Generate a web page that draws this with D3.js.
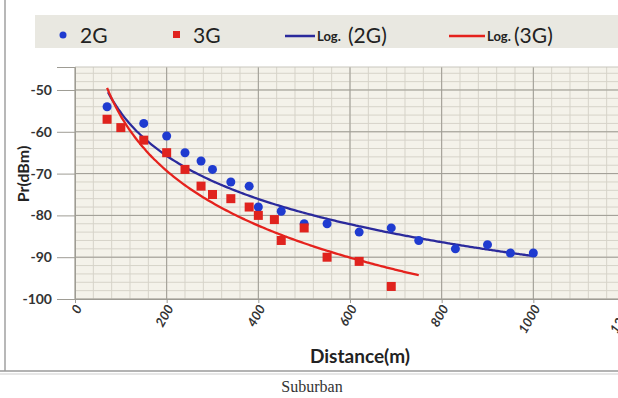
<!DOCTYPE html>
<html>
<head>
<meta charset="utf-8">
<script src="https://cdn.jsdelivr.net/npm/d3@7"></script>
<style>
  body { margin: 0; background: #fff; }
  svg { display: block; }
</style>
</head>
<body>
<div id="container"></div>
<script>
const dist2G = [70, 150, 200, 240, 275, 300, 340, 380, 400, 450, 500, 550, 620, 690, 750, 830, 900, 950, 1000];
const pr2G   = [-54, -58, -61, -65, -67, -69, -72, -73, -78, -79, -82, -82, -84, -83, -86, -88, -87, -89, -89];
const dist3G = [70, 100, 150, 200, 240, 275, 300, 340, 380, 400, 435, 450, 500, 550, 620, 690];
const pr3G   = [-57, -59, -62, -65, -69, -73, -75, -76, -78, -80, -81, -86, -83, -90, -91, -97];
// log trendlines y = a*ln(x) + b, as drawn in the picture
const trendA = [-14.9, -18.9];
const trendB = [13.2, 30.8];
const trendStart = [72, 70];
const trendEnd = [1000, 752];
const xTicks = [0, 200, 400, 600, 800, 1000, 1200];
const yTicks = [-100, -90, -80, -70, -60, -50];
const legendNames = ['2G', '3G', '(2G)', '(3G)'];

const width = 618, height = 398;
const margins = { top: 67, bottom: 99, left: 75, right: -7 };

const svg = d3.select('#container').append('svg')
    .attr('width', width).attr('height', height);

svg.append('rect').attr('width', width).attr('height', height).attr('fill', '#fff');

const xScale = d3.scaleLinear().domain([0, 1200]).range([margins.left, width - margins.right]);
const yScale = d3.scaleLinear().domain([-100, -44.5]).range([height - margins.bottom, margins.top]);

const x0 = xScale(0), x1 = xScale(1200), yb = yScale(-100), yt = yScale(-44.5);

// frame lines of the screenshot
svg.append('line').attr('x1', 5).attr('x2', 5).attr('y1', 0).attr('y2', 371)
    .attr('stroke', '#a0a0a0').attr('stroke-width', 1.5);
svg.append('line').attr('x1', 0).attr('x2', width).attr('y1', 371).attr('y2', 371)
    .attr('stroke', '#9a9a9a').attr('stroke-width', 1.5);
svg.append('line').attr('x1', 0).attr('x2', width).attr('y1', 374).attr('y2', 374)
    .attr('stroke', '#cfcfcf').attr('stroke-width', 1);

// legend band
svg.append('rect').attr('x', 35).attr('y', 15).attr('width', width - 35).attr('height', 33)
    .attr('fill', '#e9e8e1');

// plot background + grid
svg.append('rect').attr('x', x0).attr('y', yt).attr('width', x1 - x0).attr('height', yb - yt)
    .attr('fill', '#f4f2ea');

const grid = svg.append('g');
grid.selectAll('.vminor').data(d3.range(0, 1201, 40)).enter().append('line')
    .attr('x1', d => xScale(d)).attr('x2', d => xScale(d))
    .attr('y1', yt).attr('y2', yb)
    .attr('stroke', '#d6d3c9').attr('stroke-width', 1);
grid.selectAll('.hminor').data(d3.range(-100, -44, 2)).enter().append('line')
    .attr('x1', x0).attr('x2', x1)
    .attr('y1', d => yScale(d)).attr('y2', d => yScale(d))
    .attr('stroke', '#d6d3c9').attr('stroke-width', 1);
grid.selectAll('.vmajor').data(xTicks).enter().append('line')
    .attr('x1', d => xScale(d)).attr('x2', d => xScale(d))
    .attr('y1', yt).attr('y2', yb)
    .attr('stroke', '#9e9c94').attr('stroke-width', 1);
grid.selectAll('.hmajor').data(yTicks).enter().append('line')
    .attr('x1', x0).attr('x2', x1)
    .attr('y1', d => yScale(d)).attr('y2', d => yScale(d))
    .attr('stroke', '#9e9c94').attr('stroke-width', 1);
svg.append('line').attr('x1', x0).attr('x2', x1).attr('y1', yt).attr('y2', yt)
    .attr('stroke', '#c8c6bd');

// axes
const yAxis = d3.axisLeft(yScale).tickValues(yTicks).tickSize(18).tickPadding(5)
    .tickFormat(d => '-' + Math.abs(d));
const gy = svg.append('g').attr('transform', `translate(${x0},0)`).call(yAxis);
gy.select('.domain').attr('stroke', '#9e9c94');
gy.selectAll('.tick line').attr('stroke', '#9e9c94');
gy.selectAll('text')
    .style('font-family', 'Lato, "Open Sans", sans-serif')
    .style('font-size', '14px').style('font-weight', 'bold').attr('fill', '#333');

const xAxis = d3.axisBottom(xScale).tickValues(xTicks).tickSize(4).tickFormat(d => String(d));
const gx = svg.append('g').attr('transform', `translate(0,${yb})`).call(xAxis);
gx.select('.domain').attr('stroke', '#9e9c94');
gx.selectAll('.tick line').attr('stroke', '#9e9c94');
gx.selectAll('text')
    .attr('text-anchor', 'end')
    .attr('transform', 'translate(3,7) rotate(-60)')
    .attr('y', 0).attr('dy', '0.35em')
    .style('font-family', 'Lato, "Open Sans", sans-serif')
    .style('font-size', '13px').style('font-weight', 'bold').style('font-style', 'italic')
    .attr('fill', '#333');

// axis titles
svg.append('text')
    .attr('text-anchor', 'middle')
    .attr('transform', 'translate(29,174) rotate(-90)')
    .style('font-family', 'Lato, "Open Sans", sans-serif')
    .style('font-size', '16px').style('font-weight', 'bold').attr('fill', '#222')
    .text('Pr(dBm)');

svg.append('text')
    .attr('x', 360).attr('y', 363).attr('text-anchor', 'middle')
    .style('font-family', 'Lato, "Open Sans", sans-serif')
    .style('font-size', '19px').style('font-weight', 'bold').attr('fill', '#222')
    .text('Distance(m)');

svg.append('text')
    .attr('x', 312).attr('y', 392).attr('text-anchor', 'middle')
    .style('font-family', '"Liberation Serif", "DejaVu Serif", serif')
    .style('font-size', '16px').attr('fill', '#333')
    .text('Suburban');

const clip = svg.append('clipPath').attr('id', 'plotclip')
    .append('rect').attr('x', x0).attr('y', yt).attr('width', x1 - x0).attr('height', yb - yt);
const plot = svg.append('g').attr('clip-path', 'url(#plotclip)');

const series = [
    { line: '#2b2a9c', mark: '#1f3bd0' },
    { line: '#e5221d', mark: '#e0231e' }
];

const valueline = d3.line().x(d => xScale(d[0])).y(d => yScale(d[1])).curve(d3.curveMonotoneX);

series.forEach((s, k) => {
    const pts = d3.range(trendStart[k], trendEnd[k] + 1, 5)
        .map(x => [x, trendA[k] * Math.log(x) + trendB[k]]);
    plot.append('path').datum(pts)
        .attr('d', valueline)
        .attr('fill', 'none')
        .attr('stroke', s.line)
        .attr('stroke-width', 2.3);
});

plot.append('g').selectAll('circle')
    .data(dist2G.map((d, i) => [d, pr2G[i]]))
    .enter().append('circle')
    .attr('cx', d => xScale(d[0])).attr('cy', d => yScale(d[1]))
    .attr('r', 4.5).attr('fill', series[0].mark);

plot.append('g').selectAll('rect')
    .data(dist3G.map((d, i) => [d, pr3G[i]]))
    .enter().append('rect')
    .attr('x', d => xScale(d[0]) - 4.5).attr('y', d => yScale(d[1]) - 4.5)
    .attr('width', 9).attr('height', 9).attr('fill', series[1].mark);

// legend
const lg = svg.append('g')
    .style('font-family', 'Lato, "Open Sans", sans-serif').attr('fill', '#222');
lg.append('circle').attr('cx', 63).attr('cy', 35).attr('r', 3.5).attr('fill', series[0].mark);
lg.append('text').attr('x', 80).attr('y', 43).style('font-size', '21px').text(legendNames[0]);
lg.append('rect').attr('x', 173).attr('y', 31).attr('width', 7).attr('height', 7).attr('fill', series[1].mark);
lg.append('text').attr('x', 193).attr('y', 43).style('font-size', '21px').text(legendNames[1]);

lg.append('line').attr('x1', 285).attr('x2', 315).attr('y1', 36).attr('y2', 36)
    .attr('stroke', series[0].line).attr('stroke-width', 2.5);
lg.append('text').attr('x', 317).attr('y', 41).style('font-size', '13px').style('font-weight', 'bold').text('Log.');
lg.append('text').attr('x', 348).attr('y', 43).style('font-size', '21px').text(legendNames[2]);

lg.append('line').attr('x1', 449).attr('x2', 485).attr('y1', 36).attr('y2', 36)
    .attr('stroke', series[1].line).attr('stroke-width', 2.5);
lg.append('text').attr('x', 487).attr('y', 41).style('font-size', '13px').style('font-weight', 'bold').text('Log.');
lg.append('text').attr('x', 514).attr('y', 43).style('font-size', '21px').text(legendNames[3]);
</script>
</body>
</html>
